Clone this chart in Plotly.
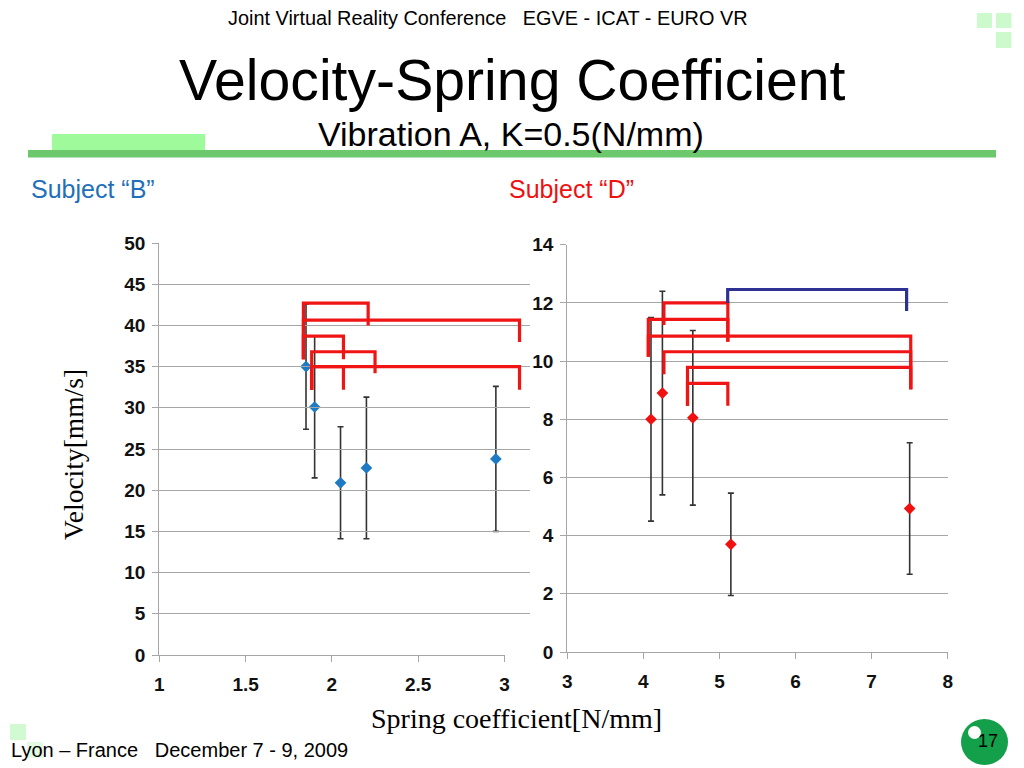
import plotly.graph_objects as go

W, H = 1024, 768

# ---------------- data ----------------
# Subject "B"
b_k = [1.85, 1.90, 2.05, 2.20, 2.95]
b_v = [35.0, 30.1, 20.9, 22.7, 23.8]
b_err = [7.6, 8.6, 6.8, 8.6, 8.8]

# Subject "D"
d_k = [4.10, 4.25, 4.65, 5.15, 7.50]
d_v = [8.0, 8.9, 8.05, 3.7, 4.93]
d_err = [3.5, 3.5, 3.0, 1.76, 2.26]

# significance brackets (from k, to k, top, left leg end, right leg end)
b_br_from = [1.835, 1.835, 1.835, 1.883, 1.883, 1.883]
b_br_to = [2.21, 3.087, 2.067, 2.25, 3.087, 2.067]
b_br_top = [42.7, 40.65, 38.7, 36.8, 35.0, 35.0]
b_br_lend = [35.9, 35.9, 35.9, 32.2, 32.2, 32.2]
b_br_rend = [40.0, 38.0, 35.9, 34.2, 32.2, 32.2]

d_br_from = [4.27, 4.065, 4.065, 4.27, 4.58, 4.58]
d_br_to = [5.11, 5.11, 7.514, 7.514, 7.514, 5.11]
d_br_top = [12.0, 11.43, 10.86, 10.32, 9.78, 9.23]
d_br_lend = [11.24, 10.15, 10.15, 9.55, 8.46, 8.46]
d_br_rend = [10.66, 10.66, 9.03, 9.03, 9.03, 8.46]

d_blue_from = [5.108]
d_blue_to = [7.46]
d_blue_top = [12.46]
d_blue_lend = [12.0]
d_blue_rend = [11.72]

b_xticks = [1, 1.5, 2, 2.5, 3]
b_yticks = list(range(0, 51, 5))
d_xticks = [3, 4, 5, 6, 7, 8]
d_yticks = list(range(0, 15, 2))

# ---------------- helpers ----------------
def px(x):
    return x / W

def py(y):
    return 1 - y / H

def bracket_path(f, t, top, le, re):
    xs, ys = [], []
    for a, b, c, d, e in zip(f, t, top, le, re):
        xs += [a, a, b, b, None]
        ys += [d, c, c, e, None]
    return xs, ys

GRID = "#A6A6A6"
TICKFONT = dict(family="Liberation Sans, Arial, sans-serif", size=19, color="#111111", weight="bold")
ERR = "#333333"

fig = go.Figure()

fig.add_trace(go.Scatter(
    x=b_k, y=b_v, mode="markers", xaxis="x", yaxis="y",
    marker=dict(symbol="diamond", size=9, color="#1E7AC2"),
    error_y=dict(type="data", array=b_err, visible=True, color=ERR, thickness=1.6, width=3),
    showlegend=False, hoverinfo="skip"))

bx, by = bracket_path(b_br_from, b_br_to, b_br_top, b_br_lend, b_br_rend)
fig.add_trace(go.Scatter(x=bx, y=by, mode="lines", xaxis="x3", yaxis="y",
                         line=dict(color="#F01414", width=3.2), showlegend=False, hoverinfo="skip"))

fig.add_trace(go.Scatter(
    x=d_k, y=d_v, mode="markers", xaxis="x2", yaxis="y2",
    marker=dict(symbol="diamond", size=9, color="#F01010"),
    error_y=dict(type="data", array=d_err, visible=True, color=ERR, thickness=1.6, width=3),
    showlegend=False, hoverinfo="skip"))

dx, dy = bracket_path(d_br_from, d_br_to, d_br_top, d_br_lend, d_br_rend)
fig.add_trace(go.Scatter(x=dx, y=dy, mode="lines", xaxis="x2", yaxis="y2",
                         line=dict(color="#F01414", width=3.2), showlegend=False, hoverinfo="skip"))
ux, uy = bracket_path(d_blue_from, d_blue_to, d_blue_top, d_blue_lend, d_blue_rend)
fig.add_trace(go.Scatter(x=ux, y=uy, mode="lines", xaxis="x2", yaxis="y2",
                         line=dict(color="#2E3192", width=3.2), showlegend=False, hoverinfo="skip"))

# ---------------- axes ----------------
L_x0, L_x1, L_y0, L_y1 = 159.3, 504.5, 655, 243
R_x0, R_x1, R_y0, R_y1 = 567.3, 947.7, 652, 244.7
L_ext = 530

common_x = dict(showgrid=False, zeroline=False, showline=True, linecolor=GRID, linewidth=1.3,
                ticks="outside", ticklen=6, tickcolor=GRID, tickwidth=1.3,
                tickfont=TICKFONT, ticklabelstandoff=6, automargin=False)
common_y = dict(showgrid=True, gridcolor=GRID, gridwidth=1.3, zeroline=False, showline=True,
                linecolor=GRID, linewidth=1.3, ticks="outside", ticklen=6, tickcolor=GRID,
                tickwidth=1.3, tickfont=TICKFONT, ticklabelstandoff=3, automargin=False)

fig.update_layout(
    xaxis=dict(domain=[px(L_x0), px(L_x1)], range=[1, 3], tickvals=b_xticks,
               ticktext=[f"{v:g}" for v in b_xticks], anchor="y", **common_x),
    yaxis=dict(domain=[py(L_y0), py(L_y1)], range=[0, 50], tickvals=b_yticks, anchor="x", **common_y),
    xaxis3=dict(domain=[px(L_x0), px(L_ext)],
                range=[1, 1 + 2 * (L_ext - L_x0) / (L_x1 - L_x0)],
                visible=False, anchor="y", automargin=False),
    xaxis2=dict(domain=[px(R_x0), px(R_x1)], range=[3, 8], tickvals=d_xticks, anchor="y2", **common_x),
    yaxis2=dict(domain=[py(R_y0), py(R_y1)], range=[0, 14], tickvals=d_yticks, anchor="x2", **common_y),
)

# ---------------- decorations ----------------
shapes = []
def rect(x0, y0, x1, y1, color, layer="below"):
    shapes.append(dict(type="rect", xref="paper", yref="paper", x0=px(x0), x1=px(x1),
                       y0=py(y0), y1=py(y1), fillcolor=color, line=dict(width=0), layer=layer))

rect(28, 150, 996, 157.5, "#6CC86C")
rect(52, 134, 205, 150, "#9EFA9A")
rect(977, 13, 992, 28, "#CCFACC")
rect(996, 13, 1011.5, 28, "#CCFACC")
rect(996, 32, 1011.5, 48, "#CCFACC")
rect(10, 724, 26, 740, "#D2FAD2")
rect(27, 742, 43, 758, "#E2FBE2")
shapes.append(dict(type="circle", xref="paper", yref="paper", x0=px(961), x1=px(1008),
                   y0=py(719), y1=py(765), fillcolor="#14A04A", line=dict(width=0), layer="below"))
shapes.append(dict(type="circle", xref="paper", yref="paper", x0=px(968), x1=px(981),
                   y0=py(726), y1=py(739), fillcolor="#FFFFFF", line=dict(width=0), layer="above"))

SANS = "Liberation Sans, Arial, sans-serif"
SERIF = "Liberation Serif, Times New Roman, serif"
ann = []
def text(t, x, y, size, color="#000000", family=SANS, xanchor="center", angle=0):
    ann.append(dict(text=t, x=px(x), y=py(y), xref="paper", yref="paper", showarrow=False,
                    xanchor=xanchor, yanchor="middle", textangle=angle,
                    font=dict(family=family, size=size, color=color)))

text("Joint Virtual Reality Conference   EGVE - ICAT - EURO VR", 488, 18, 19.9)
text("Velocity-Spring Coefficient", 512, 80, 57.2)
text("Vibration A, K=0.5(N/mm)", 511, 134, 34)
text("Subject \u201cB\u201d", 29, 189, 25, color="#1F70B8", xanchor="left")
text("Subject \u201cD\u201d", 507, 189, 25, color="#EE1111", xanchor="left")
text("Velocity[mm/s]", 73, 455, 27.5, family=SERIF, angle=-90)
text("Spring coefficient[N/mm]", 516, 718, 28, family=SERIF)
text("Lyon \u2013 France   December 7 - 9, 2009", 9, 750, 20, xanchor="left")
text("17", 988, 741, 18)

fig.update_layout(
    width=W, height=H, margin=dict(l=0, r=0, t=0, b=0, pad=0, autoexpand=False),
    paper_bgcolor="white", plot_bgcolor="rgba(0,0,0,0)",
    shapes=shapes, annotations=ann, showlegend=False,
)

fig.write_html("out.html", config={"displayModeBar": False},
               post_script="document.body.style.margin='0';document.body.style.overflow='hidden';")
